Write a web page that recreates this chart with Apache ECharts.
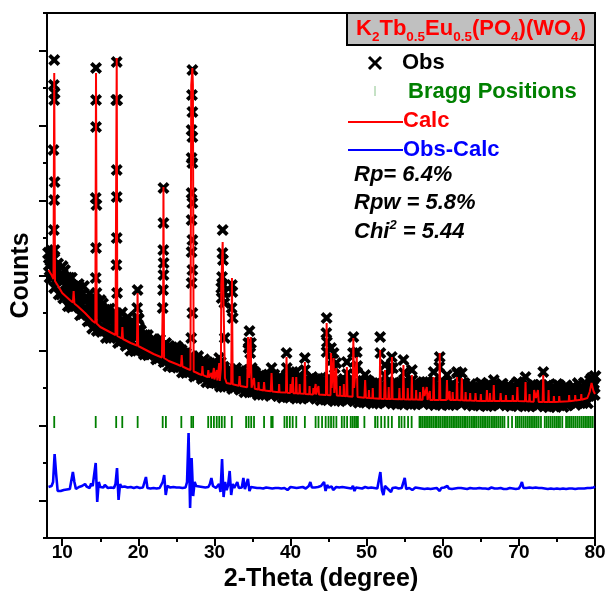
<!DOCTYPE html>
<html>
<head>
<meta charset="utf-8">
<title>K2Tb0.5Eu0.5(PO4)(WO4) Rietveld refinement</title>
<script src="https://cdn.jsdelivr.net/npm/echarts@6/dist/echarts.min.js"></script>
<style>
  html, body { margin: 0; padding: 0; background: #ffffff; }
  #chart { width: 609px; height: 602px; }
</style>
</head>
<body>
<div id="chart"></div>
<script>
// ---- measured pattern (2-theta in degrees, intensity in counts) ----

// observed step scan: first angle, step, counts (one row per degree)
const obsStart = 8.2;
const obsStep = 0.1;
const obsCounts = [
  2848,2728,2607,2775,2870,2606,2672,2792,2503,2671,
  2574,2694,2741,2597,2440,2608,2607,2439,2714,2618,
  2400,2676,2530,2434,2600,2468,2322,2598,2524,2368,
  2598,2310,2408,2492,2326,2434,2515,2359,2416,2536,
  2389,2497,2232,2340,2434,2242,2516,2372,2262,2406,
  2403,2283,2171,2339,2443,2179,2259,2379,2098,2266,
  2184,2304,2364,2220,2076,2244,2255,2087,2374,2278,
  2066,2342,2202,2106,2278,2146,2006,2282,2214,2058,
  2290,2002,2102,2186,2022,2130,2218,2062,2126,2246,
  2106,2214,1954,2062,2162,1970,2250,2106,2002,2146,
  2150,2030,1926,2094,2206,1942,2030,2150,1878,2046,
  1968,2088,2154,2010,1872,2040,2058,1890,2184,2088,
  1888,2072,1976,1912,2024,1936,1840,2024,1976,1872,
  2024,1832,1896,1952,1840,1912,1968,1864,1904,1984,
  1891,1963,1789,1861,1927,1799,1984,1888,1818,1914,
  1914,1834,1762,1874,1946,1770,1826,1906,1722,1834,
  1780,1860,1902,1806,1712,1824,1834,1722,1916,1852,
  1708,1892,1796,1732,1844,1756,1660,1844,1796,1692,
  1846,1654,1720,1776,1666,1738,1796,1692,1734,1814,
  1720,1792,1618,1690,1756,1628,1814,1718,1648,1744,
  1746,1666,1596,1708,1782,1606,1664,1744,1562,1674,
  1620,1700,1742,1646,1552,1664,1674,1562,1756,1692,
  1553,1737,1646,1582,1699,1611,1518,1702,1656,1552,
  1708,1516,1584,1640,1532,1604,1664,1560,1604,1684,
  1593,1665,1495,1567,1636,1508,1696,1600,1533,1629,
  1634,1554,1487,1599,1676,1500,1561,1641,1462,1574,
  1523,1603,1648,1552,1461,1573,1586,1474,1671,1607,
  1468,1652,1561,1497,1614,1526,1435,1619,1576,1472,
  1630,1438,1508,1564,1458,1530,1592,1488,1534,1614,
  1524,1596,1426,1498,1568,1440,1630,1534,1468,1564,
  1571,1491,1426,1538,1617,1441,1504,1584,1407,1519,
  1470,1550,1597,1501,1412,1524,1539,1427,1626,1562,
  1425,1609,1520,1456,1575,1487,1398,1582,1541,1437,
  1596,1404,1475,1531,1426,1498,1561,1457,1504,1584,
  1495,1567,1398,1470,1541,1413,1604,1508,1443,1539,
  1546,1466,1401,1513,1592,1416,1479,1559,1382,1494,
  1445,1525,1572,1476,1387,1499,1514,1402,1601,1537,
  1400,1584,1495,1431,1550,1462,1373,1557,1516,1412,
  1571,1379,1450,1506,1401,1473,1536,1432,1479,1559,
  1470,1542,1373,1445,1516,1388,1579,1483,1418,1514,
  1521,1441,1376,1488,1567,1391,1454,1534,1357,1469,
  1420,1500,1547,1451,1362,1474,1489,1377,1576,1512,
  1375,1559,1470,1406,1525,1437,1348,1532,1491,1387,
  1546,1354,1425,1481,1376,1448,1511,1407,1454,1534,
  1446,1518,1350,1422,1494,1366,1558,1462,1398,1494,
  1501,1421,1357,1469,1549,1373,1437,1517,1341,1453,
  1404,1484,1532,1436,1348,1460,1476,1364,1564,1500,
  1362,1546,1458,1394,1514,1426,1338,1522,1482,1378,
  1536,1344,1416,1472,1368,1440,1504,1400,1448,1528,
  1438,1510,1342,1414,1486,1358,1550,1454,1390,1486,
  1493,1413,1349,1461,1541,1365,1429,1509,1333,1445,
  1396,1476,1524,1428,1340,1452,1468,1356,1556,1492,
  1356,1540,1452,1388,1508,1420,1332,1516,1476,1372,
  1532,1340,1412,1468,1364,1436,1500,1396,1444,1524,
  1434,1506,1338,1410,1482,1354,1546,1450,1386,1482,
  1487,1407,1343,1455,1535,1359,1423,1503,1327,1439,
  1388,1468,1516,1420,1332,1444,1460,1348,1548,1484,
  1346,1530,1442,1378,1498,1410,1322,1506,1466,1362,
  1522,1330,1402,1458,1354,1426,1490,1386,1434,1514,
  1426,1498,1330,1402,1474,1346,1538,1442,1378,1474,
  1482,1402,1338,1450,1530,1354,1418,1498,1322,1434,
  1386,1466,1514,1418,1330,1442,1458,1346,1546,1482,
  1344,1528,1440,1376,1496,1408,1320,1504,1464,1360,
  1516,1324,1396,1452,1348,1420,1484,1380,1428,1508,
  1416,1488,1320,1392,1464,1336,1528,1432,1368,1464,
  1472,1392,1328,1440,1520,1344,1408,1488,1312,1424,
  1376,1456,1504,1408,1320,1432,1448,1336,1536,1472,
  1339,1523,1435,1371,1491,1403,1315,1499,1459,1355,
  1522,1330,1402,1458,1354,1426,1490,1386,1434,1514,
  1432,1504,1336,1408,1480,1352,1544,1448,1384,1480,
  1494,1414,1353,1465,1548,1372,1440,1520,1352,1464,
  1426,1506,1574,1478,1440,1552,1548,1436,1616
];

// extra observed points recorded on the flanks of the strong reflections
const obsStrongPeaks = [
  [8.95,4780],[8.9,4530],[9.0,4450],[8.95,4380],[8.85,3880],[9.0,3560],[8.95,3380],[8.9,3080],[9.0,2880],
  [14.44,4700],[14.44,4380],[14.44,4110],[14.4,3400],[14.5,3330],[14.44,2900],[14.4,2600],[14.5,2450],
  [17.16,4760],[17.1,4380],[17.22,4380],[17.16,3680],[17.16,3410],[17.16,3000],[17.12,2730],[17.2,2450],
  [19.9,2480],[19.85,2300],[19.95,2200],
  [23.2,2300],[23.3,3500],[23.3,3150],[23.28,2880],[23.32,2750],[23.3,2630],[23.25,2480],
  [26.95,2000],[27.1,4680],[27.05,4430],[27.1,4260],[27.0,4080],[27.1,4010],[27.0,3800],[27.1,3750],
  [27.0,3450],[27.1,3350],[27.0,3180],[27.1,2980],[27.0,2860],[27.1,2680],[27.0,2550],[27.1,2250],
  [30.9,2500],[31.08,3080],[31.05,2850],[31.12,2780],[31.0,2610],[31.15,2530],[31.25,2460],
  [32.25,2300],[32.3,2530],[32.35,2460],
  [34.45,1950],[34.6,2070],[34.8,1950],
  [39.47,1850],[39.5,1700],
  [44.74,2200],[44.7,2050],[44.78,1960],[44.74,1860],
  [48.2,1850],[48.25,2010],
  [51.77,2010],[51.8,1850],
  [53.3,1810],
  [59.55,1710],[59.6,1810],
  [61.9,1650],
  [73.2,1660]
];

// observed maxima of the weak reflections
const obsWeakPeaks = [
  [11.45,2440],[11.5,2520],[17.9,2160],[17.95,2060],[25.65,1790],[25.7,1880],
  [28.42,1770],[28.45,1690],[29.2,1730],[29.6,1700],[29.93,1750],[30.3,1730],
  [30.6,1700],[30.63,1800],[30.85,1760],[30.95,2400],[31.2,2450],[31.3,2350],[31.35,2000],
  [32.4,2200],[33.3,1670],[33.35,1590],[34.5,1900],[34.7,1850],[34.9,1700],
  [35.2,1650],[35.8,1610],[36.52,1610],[36.55,1540],[37.45,1600],[37.5,1700],
  [38.5,1590],[40.0,1590],[40.3,1660],[40.5,1560],[40.75,1660],[41.2,1590],
  [41.88,1800],[41.9,1680],[42.5,1570],[43.0,1550],[43.3,1590],[43.67,1570],
  [45.32,1900],[45.4,1780],[45.65,1850],[45.8,1700],[46.0,1750],[46.5,1570],
  [47.0,1590],[47.4,1760],[47.45,1640],[48.5,1700],[48.7,1860],[48.75,1720],
  [49.75,1530],[49.8,1630],[50.3,1530],[50.8,1550],[52.4,1730],[52.45,1620],
  [52.9,1560],[53.1,1700],[53.45,1700],[54.3,1550],[54.83,1780],[54.9,1650],
  [55.4,1550],[55.94,1680],[56.0,1580],[56.5,1530],[57.0,1510],[57.42,1560],
  [57.7,1500],[57.9,1560],[58.3,1520],[58.8,1660],[58.85,1570],[60.55,1630],
  [60.6,1530],[60.9,1520],[61.3,1510],[61.87,1660],[62.5,1650],[62.55,1550],
  [63.0,1510],[63.6,1500],[64.3,1500],[65.0,1490],[65.8,1530],[65.85,1470],
  [66.2,1500],[66.7,1580],[66.75,1500],[67.6,1500],[68.3,1480],[69.2,1480],
  [69.8,1560],[69.85,1480],[70.87,1610],[70.9,1520],[71.4,1490],[72.0,1530],
  [72.25,1470],[72.5,1530],[73.9,1530],[74.6,1470],[75.3,1470],[76.6,1480],
  [77.4,1480],[78.2,1490],[79.3,1510],[79.55,1600],[79.8,1520]
];

// refined (calculated) profile
const calcProfile = [
  [8.2,2680],[8.6,2630],[8.85,2590],[8.95,4650],[9.05,2570],[9.5,2515],[10,2450],[11,2380],
  [11.4,2355],[11.5,2470],[11.6,2345],[12,2320],[13,2250],[14,2170],[14.35,2150],[14.44,4650],
  [14.53,2145],[15,2110],[16,2070],[17,2030],[17.08,2025],[17.16,4800],[17.24,2020],[17.82,1995],
  [17.9,2110],[17.98,1990],[19,1950],[19.82,1925],[19.9,2450],[19.98,1920],[21,1880],[22,1840],
  [23.1,1805],[23.2,2330],[23.25,2000],[23.3,3510],[23.38,1800],[24,1770],[25,1740],[25.6,1720],
  [25.7,1830],[25.8,1715],[26.5,1690],[26.85,1680],[26.95,4530],[27.05,4530],[27.1,4700],
  [27.17,4530],[27.27,1665],[27.6,1655],[28,1640],[28.35,1630],[28.42,1720],[28.5,1628],
  [29.1,1608],[29.2,1680],[29.3,1604],[29.5,1597],[29.6,1650],[29.7,1593],[29.85,1590],
  [29.93,1700],[30.0,1585],[30.25,1578],[30.3,1680],[30.38,1575],[30.55,1572],[30.63,1750],
  [30.7,1570],[30.85,1700],[30.9,2530],[31.0,2530],[31.08,2960],[31.15,2530],[31.3,2530],
  [31.38,1600],[31.6,1550],[32.2,1540],[32.3,2600],[32.4,1537],[33.2,1522],[33.3,1620],
  [33.4,1520],[34.3,1507],[34.42,2010],[34.55,1600],[34.75,2010],[34.88,1503],[35.1,1497],
  [35.2,1600],[35.3,1493],[35.75,1485],[35.8,1560],[35.85,1484],[36.45,1476],[36.52,1560],
  [36.6,1475],[37.4,1467],[37.5,1650],[37.6,1466],[38.45,1458],[38.5,1540],[38.55,1458],
  [39.4,1454],[39.47,1810],[39.55,1453],[39.95,1451],[40.0,1540],[40.1,1450],[40.25,1449],
  [40.3,1610],[40.38,1448],[40.68,1447],[40.75,1610],[40.82,1446],[41.15,1445],[41.2,1540],
  [41.25,1444],[41.8,1442],[41.88,1760],[41.96,1441],[42.45,1438],[42.5,1520],[42.55,1438],
  [42.95,1436],[43.0,1500],[43.05,1436],[43.25,1435],[43.3,1540],[43.35,1435],[43.6,1434],
  [43.67,1520],[43.74,1434],[44.65,1430],[44.74,2150],[44.83,1429],[45.25,1428],[45.32,1850],
  [45.4,1500],[45.65,1800],[45.75,1450],[46.0,1700],[46.08,1424],[46.45,1422],[46.5,1520],
  [46.55,1422],[46.95,1420],[47.0,1540],[47.05,1419],[47.32,1418],[47.4,1710],[47.48,1417],
  [48.15,1413],[48.25,2000],[48.35,1500],[48.7,1810],[48.8,1410],[49.7,1403],[49.8,1580],
  [49.9,1402],[50.25,1400],[50.3,1480],[50.35,1399],[50.75,1398],[50.8,1500],[50.85,1397],
  [51.7,1393],[51.77,1880],[51.85,1392],[52.3,1390],[52.4,1680],[52.5,1390],[52.85,1390],
  [52.9,1510],[52.95,1390],[53.25,1390],[53.32,1810],[53.4,1390],[54.25,1388],[54.3,1500],
  [54.35,1388],[54.75,1387],[54.83,1730],[54.9,1387],[55.35,1386],[55.4,1500],[55.45,1386],
  [55.87,1385],[55.94,1630],[56.0,1385],[56.45,1384],[56.5,1480],[56.55,1384],[56.95,1383],
  [57.0,1460],[57.05,1383],[57.35,1382],[57.42,1510],[57.6,1420],[57.9,1510],[58.0,1381],
  [58.25,1381],[58.3,1470],[58.35,1381],[58.73,1380],[58.8,1610],[58.87,1380],[59.52,1380],
  [59.6,1850],[59.68,1380],[60.48,1380],[60.55,1580],[60.62,1380],[60.85,1380],[60.9,1470],
  [60.95,1380],[61.25,1380],[61.3,1460],[61.35,1380],[61.8,1380],[61.87,1610],[61.94,1380],
  [62.42,1378],[62.5,1600],[62.58,1378],[62.95,1376],[63.0,1460],[63.05,1376],[63.55,1374],
  [63.6,1450],[63.65,1374],[64.23,1372],[64.3,1450],[64.37,1372],[64.95,1371],[65.0,1440],
  [65.05,1371],[65.73,1370],[65.8,1480],[65.87,1370],[66.15,1370],[66.2,1450],[66.25,1370],
  [66.63,1370],[66.7,1530],[66.77,1370],[67.53,1370],[67.6,1450],[67.67,1370],[68.25,1370],
  [68.3,1430],[68.35,1370],[69.15,1370],[69.2,1430],[69.25,1370],[69.73,1370],[69.8,1510],
  [69.87,1370],[70.8,1368],[70.87,1560],[70.94,1368],[71.35,1366],[71.4,1440],[71.45,1366],
  [71.95,1362],[72.0,1480],[72.25,1400],[72.5,1480],[72.6,1360],[73.12,1360],[73.2,1630],
  [73.28,1360],[73.85,1360],[73.9,1480],[73.95,1360],[74.55,1360],[74.6,1420],[74.65,1360],
  [75.25,1362],[75.3,1420],[75.35,1362],[76.55,1368],[76.6,1430],[76.65,1368],[77.35,1375],
  [77.4,1430],[77.45,1375],[78.15,1382],[78.2,1440],[78.25,1382],[79.0,1400],[79.3,1460],
  [79.55,1550],[79.8,1470],[80,1440]
];

// difference curve (shifted below the pattern): first angle, step, counts
const diffStart = 8.2;
const diffStep = 0.2;
const diffCounts = [
  510,500,520,560,840, 640,470,455,470,460, 480,465,485,470,490, 480,660,560,490,500,
  510,495,520,505,540, 515,530,500,545,520, 540,750,360,560,510, 525,505,530,515,500,
  520,505,515,500,540, 700,380,540,510,530, 515,525,505,520,510, 515,500,520,510,515,
  500,515,505,520,610, 500,510,495,505,500, 510,495,505,500,515, 560,630,430,520,500,
  505,495,510,500,505, 495,505,490,500,510, 505,560,1050,300,800, 420,560,520,505,515,
  500,510,520,505,515, 510,540,600,520,505, 500,510,540,460,790, 410,560,480,530,670,
  430,540,500,520,560, 500,520,505,600,490, 500,590,470,510,500, 505,495,500,490,500,
  510,495,500,505,490, 500,520,495,505,500, 490,500,485,495,505, 500,520,480,500,510,
  495,505,520,500,490, 505,495,510,530,495, 500,520,560,505,495, 505,495,510,500,520,
  505,560,470,530,505, 495,515,480,500,510, 500,505,495,510,500, 505,485,500,510,495,
  520,470,505,495,500, 505,495,500,510,495, 500,490,505,495,500, 505,495,510,660,480,
  430,520,500,490,505, 460,500,495,505,500, 495,505,500,515,600, 490,505,500,495,480,
  500,505,495,500,505, 495,500,490,500,495, 505,490,500,495,485, 500,495,470,500,490,
  505,500,520,495,500, 490,500,495,505,500, 495,500,490,495,500, 490,495,500,490,495,
  485,495,490,500,490, 495,485,495,500,490, 495,505,490,495,485, 495,490,500,495,490,
  500,490,495,500,490, 495,500,490,505,495, 520,560,500,490,500, 495,505,490,500,495,
  505,490,500,495,500, 520,495,500,490,500, 495,505,490,500,495, 500,490,505,495,500,
  490,500,495,505,495, 500,490,500,495,505, 495,510,495,505,500, 510,500,520,505,515
];

// reflection positions (2-theta) and the level of their marker row
const braggPositions = [
  8.95,14.40,17.09,17.89,19.91,23.20,23.62,25.65,26.97,27.20,29.18,29.56,29.93,30.30,30.63,
  30.97,31.34,32.28,34.16,34.49,34.83,35.20,36.52,37.46,37.65,39.20,39.53,39.90,40.28,40.75,
  41.88,43.29,43.67,44.14,44.61,44.99,45.32,45.65,46.02,46.73,47.06,47.43,47.90,48.14,48.38,
  48.61,48.85,49.70,51.11,51.43,51.91,52.37,52.84,53.31,54.25,54.58,54.97,55.44,55.91,
  56.94,57.12,57.35,57.58,57.80,58.05,58.30,58.52,58.75,59.00,59.22,59.48,59.70,59.95,60.18,
  60.42,60.65,60.90,61.12,61.36,61.60,61.85,62.08,62.30,62.55,62.80,63.02,63.25,63.50,63.75,
  63.98,64.22,64.45,64.70,64.95,65.18,65.42,65.65,65.90,66.12,66.38,66.60,66.85,67.10,67.35,
  67.60,67.85,68.10,68.60,69.10,69.60,69.85,70.10,70.35,70.60,70.85,71.10,71.35,71.60,71.85,
  72.10,72.35,72.60,72.90,73.40,73.65,73.90,74.15,74.40,74.65,74.90,75.15,75.40,75.70,76.20,
  76.45,76.70,76.95,77.20,77.45,77.70,77.95,78.20,78.45,78.70,78.95,79.20,79.45,79.70
];
const braggLevel = 1160;

// axis ticks (no y labels are printed)
const xTickLabels = [10, 20, 30, 40, 50, 60, 70, 80];
const xMinorTicks = [15, 25, 35, 45, 55, 65, 75];
const yMajorTicks = [375, 1125, 1875, 2625, 3375, 4125, 4875];
const yMinorTicks = [0, 750, 1500, 2250, 3000, 3750, 4500, 5250];

// fit statistics
const fitStats = { Rp: '6.4%', Rpw: '5.8%', Chi2: '5.44' };

// ---- chart ----
const FONT = '"Liberation Sans", Arial, Helvetica, sans-serif';
const chart = echarts.init(document.getElementById('chart'));

const obsSeries = obsCounts.map((v, i) => [Math.round((obsStart + i * obsStep) * 100) / 100, v]);
const diffSeries = diffCounts.map((v, i) => [Math.round((diffStart + i * diffStep) * 100) / 100, v]);
const braggSeries = braggPositions.map(p => [p, braggLevel]);

// bold "x" marker
const crossPath = 'path://M0,2.2L2.2,0L5,2.8L7.8,0L10,2.2L7.2,5L10,7.8L7.8,10L5,7.2L2.2,10L0,7.8L2.8,5Z';

const tickLine = { color: '#000', width: 2 };
const xRange = { min: 8, max: 80 };
const yRange = { min: 0, max: 5250 };

function legendText(text, x, y, color, italic) {
  return {
    type: 'text', z: 100,
    style: {
      text, x, y, fill: color,
      fontSize: 22, fontWeight: 'bold', fontStyle: italic ? 'italic' : 'normal', fontFamily: FONT,
      align: 'left', verticalAlign: 'middle', textAlign: 'left', textVerticalAlign: 'middle'
    }
  };
}

const obsStyle = { color: '#000', opacity: 1 };

const option = {
  animation: false,
  backgroundColor: '#ffffff',
  grid: { left: 47, right: 14, top: 13, bottom: 64, show: true, borderColor: '#000', borderWidth: 2, backgroundColor: 'transparent' },
  xAxis: [
    {
      type: 'value', ...xRange, position: 'bottom',
      axisLine: { show: true, lineStyle: tickLine },
      axisTick: { show: true, customValues: xTickLabels, length: 8, lineStyle: tickLine },
      axisLabel: { show: true, customValues: xTickLabels, color: '#000', fontSize: 19, fontWeight: 'bold', fontFamily: FONT, margin: 5 },
      splitLine: { show: false },
      name: '2-Theta (degree)', nameLocation: 'middle', nameGap: 24,
      nameTextStyle: { color: '#000', fontSize: 25, fontWeight: 'bold', fontFamily: FONT }
    },
    {
      type: 'value', ...xRange, position: 'bottom', offset: 0,
      axisLine: { show: false },
      axisTick: { show: true, customValues: xMinorTicks, length: 4, lineStyle: tickLine },
      axisLabel: { show: false },
      splitLine: { show: false }
    }
  ],
  yAxis: [
    {
      type: 'value', ...yRange, position: 'left',
      axisLine: { show: true, lineStyle: tickLine },
      axisTick: { show: true, customValues: yMajorTicks, length: 8, lineStyle: tickLine },
      axisLabel: { show: false },
      splitLine: { show: false },
      name: 'Counts', nameLocation: 'middle', nameGap: 13,
      nameTextStyle: { color: '#000', fontSize: 25, fontWeight: 'bold', fontFamily: FONT }
    },
    {
      type: 'value', ...yRange, position: 'left', offset: 0,
      axisLine: { show: false },
      axisTick: { show: true, customValues: yMinorTicks, length: 4, lineStyle: tickLine },
      axisLabel: { show: false },
      splitLine: { show: false }
    }
  ],
  series: [
    {
      name: 'Obs', type: 'scatter', data: obsSeries, symbol: crossPath, symbolSize: 13,
      itemStyle: obsStyle, silent: true, z: 2, large: false
    },
    {
      name: 'Obs', type: 'scatter', data: obsWeakPeaks.concat(obsStrongPeaks), symbol: crossPath, symbolSize: 12,
      itemStyle: obsStyle, silent: true, z: 2
    },
    {
      name: 'Calc', type: 'line', data: calcProfile, showSymbol: false, symbol: 'none',
      lineStyle: { color: '#ff0000', width: 2 }, silent: true, z: 3
    },
    {
      name: 'Bragg Positions', type: 'scatter', data: braggSeries, symbol: 'rect', symbolSize: [1.8, 12],
      itemStyle: { color: '#008000', opacity: 1 }, silent: true, z: 3
    },
    {
      name: 'Obs-Calc', type: 'line', data: diffSeries, showSymbol: false, symbol: 'none',
      lineStyle: { color: '#0000ff', width: 2.6 }, silent: true, z: 3
    }
  ],
  graphic: [
    {
      type: 'rect', z: 99,
      shape: { x: 347, y: 13, width: 248, height: 32 },
      style: { fill: '#c0c0c0', stroke: '#000', lineWidth: 2 }
    },
    {
      type: 'text', z: 100,
      style: {
        text: 'K{s|2}Tb{s|0.5}Eu{s|0.5}(PO{s|4})(WO{s|4})',
        x: 471, y: 29, fill: '#ff0000',
        fontSize: 22, fontWeight: 'bold', fontFamily: FONT, lineHeight: 30,
        align: 'center', verticalAlign: 'middle', textAlign: 'center', textVerticalAlign: 'middle',
        rich: {
          s: { fontSize: 13.5, fontWeight: 'bold', fontFamily: FONT, fill: '#ff0000', lineHeight: 14, verticalAlign: 'bottom' }
        }
      }
    },
    { type: 'line', z: 100, shape: { x1: 369, y1: 57, x2: 381, y2: 69 }, style: { stroke: '#000', lineWidth: 3 } },
    { type: 'line', z: 100, shape: { x1: 381, y1: 57, x2: 369, y2: 69 }, style: { stroke: '#000', lineWidth: 3 } },
    legendText('Obs', 402, 63, '#000'),
    { type: 'line', z: 100, shape: { x1: 375, y1: 86, x2: 375, y2: 96 }, style: { stroke: '#8cc48c', lineWidth: 1 } },
    legendText('Bragg Positions', 408, 92, '#008000'),
    { type: 'line', z: 100, shape: { x1: 348, y1: 122, x2: 403, y2: 122 }, style: { stroke: '#ff0000', lineWidth: 2 } },
    legendText('Calc', 403, 121, '#ff0000'),
    { type: 'line', z: 100, shape: { x1: 348, y1: 150, x2: 403, y2: 150 }, style: { stroke: '#0000ff', lineWidth: 2 } },
    legendText('Obs-Calc', 403, 150, '#0000ff'),
    legendText('Rp= ' + fitStats.Rp, 354, 175, '#000', true),
    legendText('Rpw = ' + fitStats.Rpw, 354, 203, '#000', true),
    {
      type: 'text', z: 100,
      style: {
        text: 'Chi{p|2} = ' + fitStats.Chi2,
        x: 354, y: 232, fill: '#000',
        fontSize: 22, fontWeight: 'bold', fontStyle: 'italic', fontFamily: FONT, lineHeight: 26,
        align: 'left', verticalAlign: 'middle', textAlign: 'left', textVerticalAlign: 'middle',
        rich: {
          p: { fontSize: 13, fontWeight: 'bold', fontStyle: 'italic', fontFamily: FONT, fill: '#000', lineHeight: 18, verticalAlign: 'top' }
        }
      }
    }
  ]
};

chart.setOption(option);
</script>
</body>
</html>
